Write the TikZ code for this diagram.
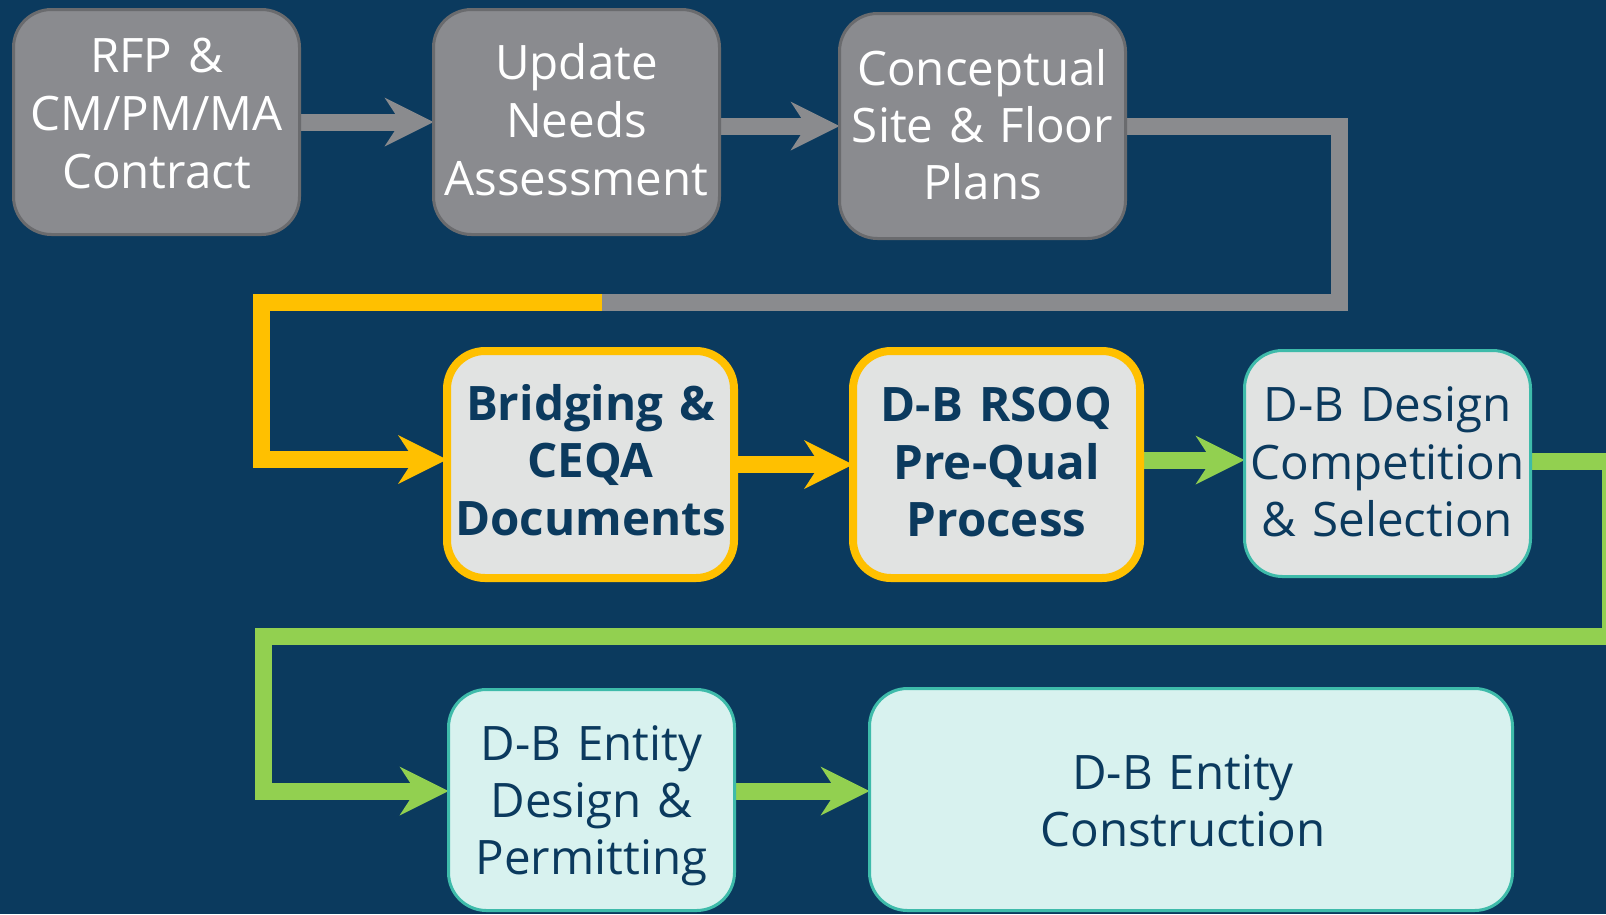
\documentclass[tikz,border=0pt]{standalone}
\usepackage{fontspec}
\setmainfont{Open Sans}
\usetikzlibrary{arrows.meta,backgrounds}
\definecolor{bgc}{HTML}{0B3A5E}
\definecolor{navy}{HTML}{0B3A5E}
\definecolor{grayfill}{HTML}{8A8B8F}
\definecolor{grayedge}{HTML}{6A6B6E}
\definecolor{grayline}{HTML}{8A8B8E}
\definecolor{yel}{HTML}{FFC000}
\definecolor{grn}{HTML}{92D050}
\definecolor{teal}{HTML}{3EBBAA}
\definecolor{lightgray}{HTML}{E1E3E2}
\definecolor{lightcyan}{HTML}{D8F2EF}
\begin{document}
\begin{tikzpicture}[x=1pt,y=-1pt,
  box/.style={rectangle,rounded corners=38pt,inner sep=0pt,outer sep=0pt},
  graybox/.style={box,fill=grayfill,draw=grayedge,line width=3pt,minimum width=286pt,minimum height=225pt},
  yelbox/.style={box,fill=lightgray,draw=yel,line width=8pt,minimum width=287pt,minimum height=227pt},
  tealbox/.style={box,draw=teal,line width=3pt},
  txt/.style={anchor=base,inner sep=0pt,text width=330pt,align=center,font=\fontsize{47.5}{#1}\selectfont},
  txt/.default=57.5,
  btxt/.style={txt,font=\fontsize{47.5}{57.5}\selectfont\bfseries},
  tip/.style={-{Stealth[length=49pt,width=49pt,inset=16pt,line width=0pt]}},
  conn/.style={line width=17pt,line join=miter,line cap=butt},
]
\useasboundingbox (0,0) rectangle (1606,914);

% boxes
\node[graybox] (rfp) at (156.5,122) {};
\node[graybox] (upd) at (576.5,122) {};
\node[graybox] (con) at (982.5,126) {};
\node[yelbox] (bri) at (590.5,464.5) {};
\node[yelbox] (rsq) at (996.5,464.5) {};
\node[tealbox,fill=lightgray,minimum width=286pt,minimum height=226pt] (des) at (1387.5,463.5) {};
\node[tealbox,fill=lightcyan,minimum width=286pt,minimum height=221pt] (ent) at (591.5,800) {};
\node[tealbox,fill=lightcyan,minimum width=643pt,minimum height=222pt] (cns) at (1191,799.5) {};

% texts
\node[txt=58,text=white] (rfpT) at (156.5,72.3) {RFP \&\\CM/PM/MA\\Contract};
\node[txt=58,text=white] (updT) at (576.5,79) {Update\\Needs\\Assessment};
\node[txt=57,text=white] (conT) at (982.5,85) {Conceptual\\Site \& Floor\\Plans};
\node[btxt,text=navy] (briT) at (590.5,420) {Bridging \&\\CEQA\\Documents};
\node[btxt,text=navy] (rsqT) at (996.5,421.5) {D-B RSOQ\\Pre-Qual\\Process};
\node[txt,text=navy] (desT) at (1387.5,421.7) {D-B Design\\Competition\\\& Selection};
\node[txt=57,text=navy] (entT) at (591.5,760) {D-B Entity\\Design \&\\Permitting};
\node[txt=57,text=navy] (cnsT) at (1183,789) {D-B Entity\\Construction};

% helper coordinates
\coordinate (g1) at (1339.5,302);
\coordinate (j) at (602,302);
\coordinate (y1) at (261.5,459.5);
\coordinate (g0) at (1190,460);
\coordinate (d0) at (1560,461);
\coordinate (r1) at (1610.5,636.5);
\coordinate (l1) at (263.5,791);

\begin{pgfonlayer}{background}
\clip (0,0) rectangle (1606,914);
\fill[bgc] (0,0) rectangle (1606,914);
% gray
\draw[conn,grayline,tip] (rfp.east) -- (upd.west);
\draw[conn,grayline,tip] (upd.east |- con.west) -- (con.west);
\draw[conn,grayline] (con.east) -| (g1) -- (j);
% yellow
\draw[conn,yel,tip] (j) -| (y1) -- (y1 -| bri.west);
\draw[conn,yel,tip] (bri.east) -- (rsq.west);
% green
\draw[conn,grn,tip] (g0 -| rsq.east) -- (g0 -| des.west);
\draw[conn,grn,tip] (d0 -| des.east) -| (r1) -| (l1) -- (l1 -| ent.west);
\draw[conn,grn,tip] (l1 -| ent.east) -- (l1 -| cns.west);
\end{pgfonlayer}
\end{tikzpicture}
\end{document}
